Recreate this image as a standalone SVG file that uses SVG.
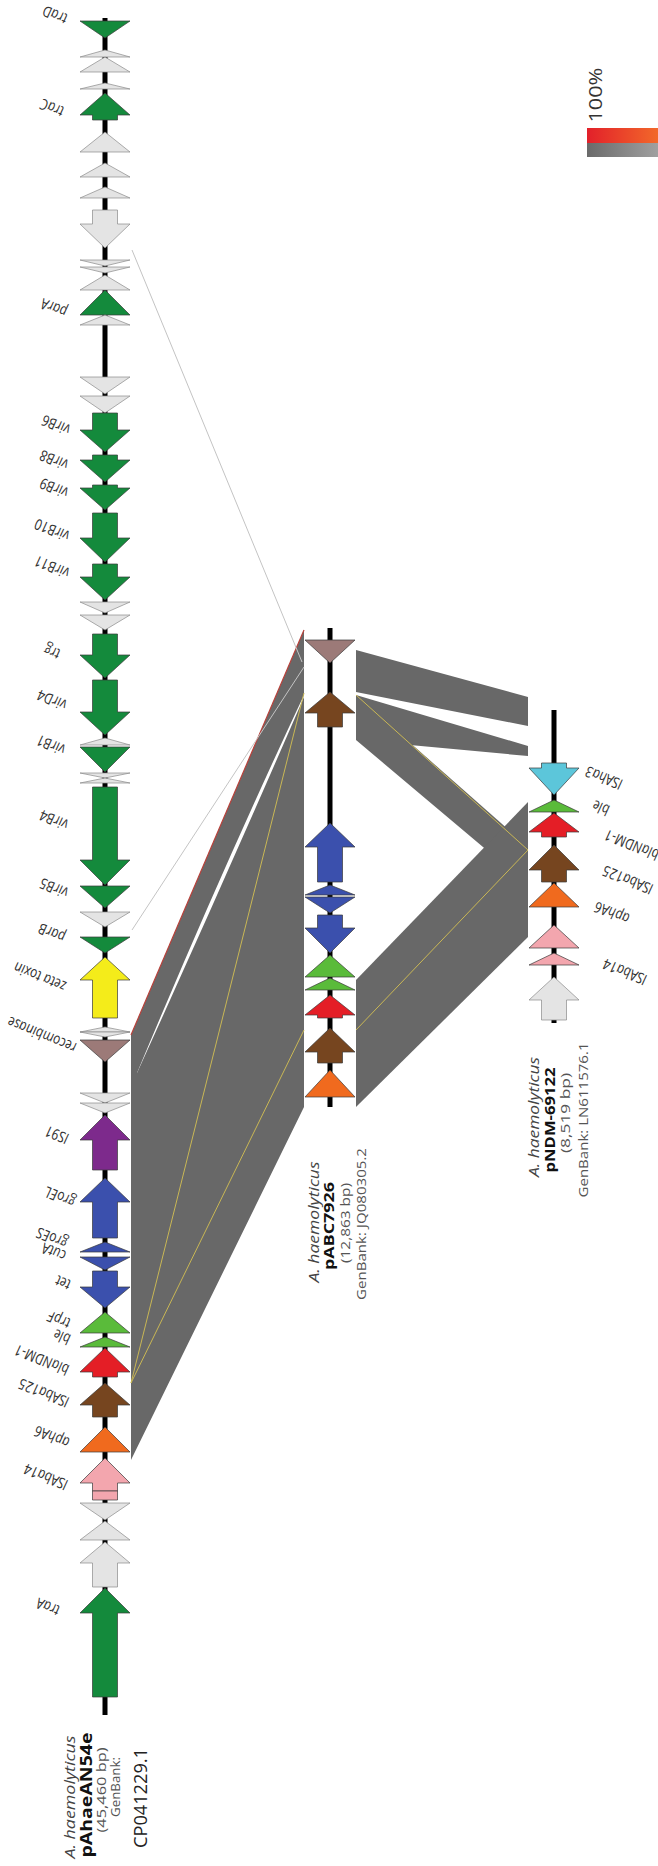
<svg xmlns="http://www.w3.org/2000/svg" width="658" height="1866" viewBox="0 0 658 1866">
<defs>
<style>
.bb{stroke:#000;stroke-width:5;fill:none}
.gn{stroke:#3a3a3a;stroke-width:0.7}
.dg{fill:#148a3c}.lg{fill:#e4e4e4;stroke:#8a8a8a}.ye{fill:#f4ec1a}.mv{fill:#9c7a78}.pu{fill:#7d2a8c}
.bl{fill:#3b50ad}.lgr{fill:#5abb3a}.rd{fill:#e41e26}.br{fill:#76451f}.or{fill:#f06a1e}.pk{fill:#f3a6ae}.cy{fill:#5cc6da}
.band{fill:#686868}
.thin{stroke:#c4c4c4;stroke-width:1;fill:none}
.yl{stroke:#c9b755;stroke-width:1;fill:none}
.lab{font-family:"Open Sans","Liberation Sans",sans-serif;font-size:12.5px;font-style:italic;fill:#333}
.t1{font-family:"Open Sans","Liberation Sans",sans-serif;font-style:italic;fill:#444}
.t2{font-family:"Open Sans","Liberation Sans",sans-serif;font-weight:bold;fill:#111}
.t3{font-family:"Open Sans","Liberation Sans",sans-serif;fill:#555}
</style>
<linearGradient id="gr" x1="0" x2="1" y1="0" y2="0"><stop offset="0" stop-color="#e2202a"/><stop offset="1" stop-color="#f2682a"/></linearGradient>
<linearGradient id="gg" x1="0" x2="1" y1="0" y2="0"><stop offset="0" stop-color="#6a6a6a"/><stop offset="1" stop-color="#a0a0a0"/></linearGradient>
</defs>
<rect width="658" height="1866" fill="#fff"/>

<g id="connectors">
<path class="band" d="M131,1035 L304,630 L304,695 Q219,876 137,1073 L131,1073 Z"/>
<path class="band" d="M131,1073 L137,1073 Q223,884 304,697 L304,1107 L131,1460 Z"/>
<line x1="131" y1="1035" x2="304" y2="630" stroke="#b8403a" stroke-width="1.2"/>
<line class="yl" x1="131" y1="1383" x2="304" y2="693"/>
<line class="yl" x1="131" y1="1383" x2="304" y2="1030"/>
<line class="thin" x1="132" y1="250" x2="302" y2="662"/>
<line class="thin" x1="132" y1="930" x2="304" y2="667"/>
<path class="band" d="M356,650 L528,697 L528,726 L356,692 Z"/>
<path class="band" d="M356,695 L528,746 L528,756 L356,740 Z"/>
<path class="band" d="M356,695 L528,847 L528,885 L356,740 Z"/>
<path class="band" d="M356,980 L528,802 L528,937 L356,1107 Z"/>
<line class="yl" x1="356" y1="695" x2="528" y2="850"/>
<line class="yl" x1="356" y1="1030" x2="528" y2="850"/>
</g>

<g id="track-pAhaeAN54e">
<line class="bb" x1="105" y1="18" x2="105" y2="1715"/>
<g class="gn">
<polygon class="dg" points="80,21 130,21 105,38"/>
<polygon class="lg" points="105,50 130,57 80,57"/>
<polygon class="lg" points="105,57 130,72 80,72"/>
<polygon class="lg" points="105,83 130,89 80,89"/>
<polygon class="dg" points="105,93 130,115 117.5,115 117.5,120 92.5,120 92.5,115 80,115"/>
<polygon class="lg" points="105,132 130,152 80,152"/>
<polygon class="lg" points="105,163 130,177 80,177"/>
<polygon class="lg" points="105,187 130,198 80,198"/>
<polygon class="lg" points="92.5,210 117.5,210 117.5,224 130,224 105,248 80,224 92.5,224"/>
<polygon class="lg" points="80,260 130,260 105,266"/>
<polygon class="lg" points="80,267 130,267 105,273"/>
<polygon class="lg" points="105,275 130,290 80,290"/>
<polygon class="dg" points="105,290 130,315 80,315"/>
<polygon class="lg" points="105,315 130,325 80,325"/>
<polygon class="lg" points="80,377 130,377 105,394"/>
<polygon class="lg" points="80,396 130,396 105,413"/>
<polygon class="dg" points="92.5,413 117.5,413 117.5,430 130,430 105,452 80,430 92.5,430"/>
<polygon class="dg" points="92.5,455 117.5,455 117.5,460 130,460 105,482 80,460 92.5,460"/>
<polygon class="dg" points="92.5,485 117.5,485 117.5,488 130,488 105,510 80,488 92.5,488"/>
<polygon class="dg" points="92.5,513 117.5,513 117.5,538 130,538 105,562 80,538 92.5,538"/>
<polygon class="dg" points="92.5,564 117.5,564 117.5,577 130,577 105,600 80,577 92.5,577"/>
<polygon class="lg" points="80,602 130,602 105,613"/>
<polygon class="lg" points="80,615 130,615 105,630"/>
<polygon class="dg" points="92.5,634 117.5,634 117.5,655 130,655 105,678 80,655 92.5,655"/>
<polygon class="dg" points="92.5,680 117.5,680 117.5,712 130,712 105,735 80,712 92.5,712"/>
<polygon class="lg" points="105,738 130,745 80,745"/>
<polygon class="dg" points="80,747 130,747 105,772"/>
<polygon class="lg" points="80,773 130,773 105,778"/>
<polygon class="lg" points="105,778 130,783 80,783"/>
<polygon class="dg" points="92.5,787 117.5,787 117.5,860 130,860 105,885 80,860 92.5,860"/>
<polygon class="dg" points="80,886 130,886 105,908"/>
<polygon class="lg" points="80,912 130,912 105,927"/>
<polygon class="dg" points="80,937 130,937 105,953"/>
<polygon class="ye" points="105,957 130,980 117.5,980 117.5,1018 92.5,1018 92.5,980 80,980"/>
<polygon class="lg" points="105,1027 130,1032 80,1032"/>
<polygon class="lg" points="80,1032 130,1032 105,1037"/>
<polygon class="mv" points="80,1040 130,1040 105,1062"/>
<polygon class="lg" points="80,1093 130,1093 105,1103"/>
<polygon class="lg" points="80,1103 130,1103 105,1113"/>
<polygon class="pu" points="105,1115 130,1140 117.5,1140 117.5,1170 92.5,1170 92.5,1140 80,1140"/>
<polygon class="bl" points="105,1178 130,1202 117.5,1202 117.5,1238 92.5,1238 92.5,1202 80,1202"/>
<polygon class="bl" points="105,1242 130,1252 80,1252"/>
<polygon class="bl" points="80,1257 130,1257 105,1270"/>
<polygon class="bl" points="92.5,1271 117.5,1271 117.5,1287 130,1287 105,1308 80,1287 92.5,1287"/>
<polygon class="lgr" points="105,1312 130,1333 80,1333"/>
<polygon class="lgr" points="105,1337 130,1347 80,1347"/>
<polygon class="rd" points="105,1348 130,1372 117.5,1372 117.5,1377 92.5,1377 92.5,1372 80,1372"/>
<polygon class="br" points="105,1383 130,1405 117.5,1405 117.5,1417 92.5,1417 92.5,1405 80,1405"/>
<polygon class="or" points="105,1427 130,1452 80,1452"/>
<polygon class="pk" points="105,1458 130,1483 117.5,1483 117.5,1491 92.5,1491 92.5,1483 80,1483"/>
<polygon class="pk" points="92.5,1491 117.5,1491 117.5,1500 92.5,1500"/>
<polygon class="lg" points="80,1503 130,1503 105,1520"/>
<polygon class="lg" points="105,1521 130,1540 80,1540"/>
<polygon class="lg" points="105,1542 130,1563 117.5,1563 117.5,1587 92.5,1587 92.5,1563 80,1563"/>
<polygon class="dg" points="105,1588 130,1613 117.5,1613 117.5,1697 92.5,1697 92.5,1613 80,1613"/>
</g>
<g class="lab" text-anchor="middle">
<text transform="translate(55,15) scale(1,1.25) rotate(198)" dy="0.35em">traD</text>
<text transform="translate(52,108) scale(1,1.25) rotate(198)" dy="0.35em">traC</text>
<text transform="translate(54,308) scale(1,1.25) rotate(198)" dy="0.35em">parA</text>
<text transform="translate(56,425) scale(1,1.25) rotate(198)" dy="0.35em">virB6</text>
<text transform="translate(54,460) scale(1,1.25) rotate(198)" dy="0.35em">virB8</text>
<text transform="translate(54,488) scale(1,1.25) rotate(198)" dy="0.35em">virB9</text>
<text transform="translate(52,530) scale(1,1.25) rotate(198)" dy="0.35em">virB10</text>
<text transform="translate(52,567) scale(1,1.25) rotate(198)" dy="0.35em">virB11</text>
<text transform="translate(52,652) scale(1,1.25) rotate(198)" dy="0.35em">trg</text>
<text transform="translate(52,700) scale(1,1.25) rotate(198)" dy="0.35em">virD4</text>
<text transform="translate(51,745) scale(1,1.25) rotate(198)" dy="0.35em">virB1</text>
<text transform="translate(54,820) scale(1,1.25) rotate(198)" dy="0.35em">virB4</text>
<text transform="translate(54,888) scale(1,1.25) rotate(198)" dy="0.35em">virB5</text>
<text transform="translate(52,933) scale(1,1.25) rotate(198)" dy="0.35em">parB</text>
<text transform="translate(40,977) scale(1,1.25) rotate(198)" dy="0.35em">zeta toxin</text>
<text transform="translate(42,1035) scale(1,1.25) rotate(198)" dy="0.35em">recombinase</text>
<text transform="translate(57,1135) scale(1,1.25) rotate(198)" dy="0.35em">IS91</text>
<text transform="translate(60,1197) scale(1,1.25) rotate(198)" dy="0.35em">groEL</text>
<text transform="translate(52,1238) scale(1,1.25) rotate(198)" dy="0.35em">groES</text>
<text transform="translate(54,1252) scale(1,1.25) rotate(198)" dy="0.35em">cutA</text>
<text transform="translate(63,1283) scale(1,1.25) rotate(198)" dy="0.35em">tet</text>
<text transform="translate(59,1320) scale(1,1.25) rotate(198)" dy="0.35em">trpF</text>
<text transform="translate(62,1337) scale(1,1.25) rotate(198)" dy="0.35em">ble</text>
<text transform="translate(42,1360) scale(1,1.25) rotate(198)" dy="0.35em">blaNDM-1</text>
<text transform="translate(44,1393) scale(1,1.25) rotate(198)" dy="0.35em">ISAba125</text>
<text transform="translate(52,1437) scale(1,1.25) rotate(198)" dy="0.35em">aphA6</text>
<text transform="translate(46,1477) scale(1,1.25) rotate(198)" dy="0.35em">ISAba14</text>
<text transform="translate(48,1607) scale(1,1.25) rotate(198)" dy="0.35em">traA</text>
</g>
<g text-anchor="middle">
<text class="t1" font-size="14" transform="translate(75,1797) rotate(-90)" textLength="123" lengthAdjust="spacingAndGlyphs">A. haemolyticus</text>
<text class="t2" font-size="16" transform="translate(91.5,1795) rotate(-90)" textLength="125" lengthAdjust="spacingAndGlyphs">pAhaeAN54e</text>
<text class="t3" font-size="13" transform="translate(106,1790) rotate(-90)" textLength="85" lengthAdjust="spacingAndGlyphs">(45,460 bp)</text>
<text class="t3" font-size="13" transform="translate(120,1787) rotate(-90)" textLength="60" lengthAdjust="spacingAndGlyphs">GenBank:</text>
<text class="t3" font-size="19" style="fill:#222" transform="translate(147,1798) rotate(-90)" textLength="100" lengthAdjust="spacingAndGlyphs">CP041229.1</text>
</g>
</g>

<g id="track-pABC7926">
<line class="bb" x1="330" y1="628" x2="330" y2="1107"/>
<g class="gn">
<polygon class="mv" points="305,640 355,640 330,663"/>
<polygon class="br" points="330,692 355,713 342.5,713 342.5,727 317.5,727 317.5,713 305,713"/>
<polygon class="bl" points="330,823 355,847 342.5,847 342.5,882 317.5,882 317.5,847 305,847"/>
<polygon class="bl" points="330,885 355,895 305,895"/>
<polygon class="bl" points="305,897 355,897 330,913"/>
<polygon class="bl" points="317.5,915 342.5,915 342.5,928 355,928 330,953 305,928 317.5,928"/>
<polygon class="lgr" points="330,955 355,977 305,977"/>
<polygon class="lgr" points="330,978 355,990 305,990"/>
<polygon class="rd" points="330,995 355,1015 342.5,1015 342.5,1018 317.5,1018 317.5,1015 305,1015"/>
<polygon class="br" points="330,1028 355,1052 342.5,1052 342.5,1063 317.5,1063 317.5,1052 305,1052"/>
<polygon class="or" points="330,1070 355,1097 305,1097"/>
</g>
<g text-anchor="middle">
<text class="t1" font-size="14" transform="translate(319,1222) rotate(-90)" textLength="121" lengthAdjust="spacingAndGlyphs">A. haemolyticus</text>
<text class="t2" font-size="14" transform="translate(334,1226) rotate(-90)" textLength="88" lengthAdjust="spacingAndGlyphs">pABC7926</text>
<text class="t3" font-size="13" transform="translate(350,1223) rotate(-90)" textLength="80" lengthAdjust="spacingAndGlyphs">(12,863 bp)</text>
<text class="t3" font-size="13" transform="translate(366,1224) rotate(-90)" textLength="152" lengthAdjust="spacingAndGlyphs">GenBank: JQ080305.2</text>
</g>
</g>

<g id="track-pNDM-69122">
<line class="bb" x1="554" y1="710" x2="554" y2="1023"/>
<g class="gn">
<polygon class="cy" points="541.5,763 566.5,763 566.5,768 579,768 554,795 529,768 541.5,768"/>
<polygon class="lgr" points="554,800 579,812 529,812"/>
<polygon class="rd" points="554,813 579,832 566.5,832 566.5,837 541.5,837 541.5,832 529,832"/>
<polygon class="br" points="554,845 579,870 566.5,870 566.5,882 541.5,882 541.5,870 529,870"/>
<polygon class="or" points="554,883 579,907 529,907"/>
<polygon class="pk" points="554,925 579,948 529,948"/>
<polygon class="pk" points="554,953 579,965 529,965"/>
<polygon class="lg" points="554,977 579,1000 566.5,1000 566.5,1020 541.5,1020 541.5,1000 529,1000"/>
</g>
<g class="lab" text-anchor="middle">
<text transform="translate(604,778) scale(1,1.25) rotate(198)" dy="0.35em">ISAha3</text>
<text transform="translate(601,808) scale(1,1.25) rotate(198)" dy="0.35em">ble</text>
<text transform="translate(632,845) scale(1,1.25) rotate(198)" dy="0.35em">blaNDM-1</text>
<text transform="translate(628,880) scale(1,1.25) rotate(198)" dy="0.35em">ISAba125</text>
<text transform="translate(612,913) scale(1,1.25) rotate(198)" dy="0.35em">aphA6</text>
<text transform="translate(625,972) scale(1,1.25) rotate(198)" dy="0.35em">ISAba14</text>
</g>
<g text-anchor="middle">
<text class="t1" font-size="14" transform="translate(539,1117) rotate(-90)" textLength="120" lengthAdjust="spacingAndGlyphs">A. haemolyticus</text>
<text class="t2" font-size="14" transform="translate(555,1120) rotate(-90)" textLength="105" lengthAdjust="spacingAndGlyphs">pNDM-69122</text>
<text class="t3" font-size="13" transform="translate(570,1113) rotate(-90)" textLength="80" lengthAdjust="spacingAndGlyphs">(8,519 bp)</text>
<text class="t3" font-size="13" transform="translate(588,1120) rotate(-90)" textLength="155" lengthAdjust="spacingAndGlyphs">GenBank: LN611576.1</text>
</g>
</g>

<g id="legend">
<text class="t3" style="fill:#333" font-size="19" text-anchor="middle" transform="translate(602,95) rotate(-90)" textLength="55" lengthAdjust="spacingAndGlyphs">100%</text>
<rect x="587" y="128" width="71" height="15" fill="url(#gr)"/>
<rect x="587" y="143" width="71" height="14" fill="url(#gg)"/>
</g>
</svg>
